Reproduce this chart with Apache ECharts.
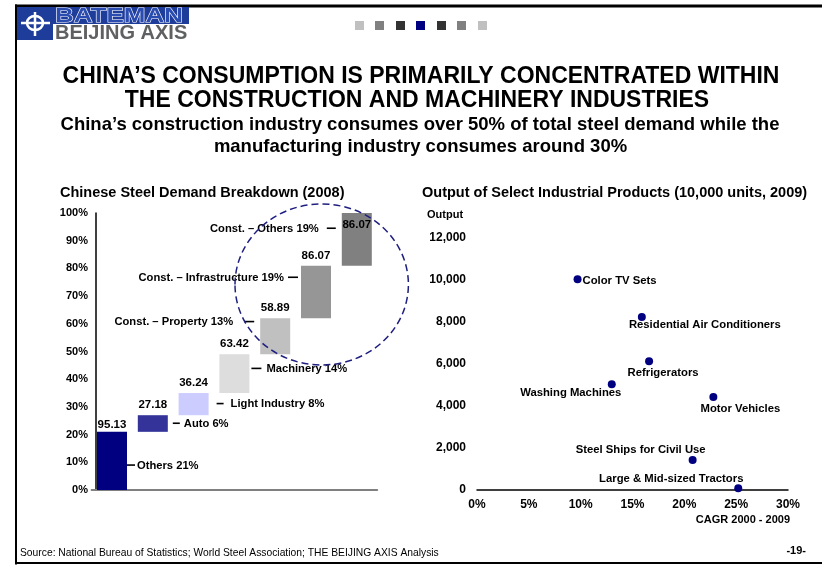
<!DOCTYPE html>
<html><head><meta charset="utf-8">
<script src="https://cdn.jsdelivr.net/npm/echarts@6/dist/echarts.min.js"></script>
<style>html,body{margin:0;padding:0;background:#fff}#c{width:822px;height:565px}</style>
</head><body><div id="c"></div>
<script>
const FONT = '"Liberation Sans", Arial, Helvetica, sans-serif';

// ---- Left chart data: Chinese Steel Demand Breakdown (2008)
const sectors = ['Others', 'Auto', 'Light Industry', 'Machinery', 'Const. – Property', 'Const. – Infrastructure', 'Const. – Others'];
const sectorShares = [21, 6, 8, 14, 13, 19, 19];
const barTopLabels = ['95.13', '27.18', '36.24', '63.42', '58.89', '86.07', '86.07'];
const sectorLabels = ['Others 21%', 'Auto 6%', 'Light Industry 8%', 'Machinery 14%', 'Const. – Property 13%', 'Const. – Infrastructure 19%', 'Const. – Others 19%'];
const shareTicks = ['0%', '10%', '20%', '30%', '40%', '50%', '60%', '70%', '80%', '90%', '100%'];

// ---- Right chart data: Output of Select Industrial Products (10,000 units, 2009)
const products = ['Color TV Sets', 'Residential Air Conditioners', 'Refrigerators', 'Washing Machines', 'Motor Vehicles', 'Steel Ships for Civil Use', 'Large & Mid-sized Tractors'];
const cagr = [9.7, 15.9, 16.6, 13.0, 22.8, 20.8, 25.2];
const output = [10000, 8200, 6100, 5000, 4400, 1400, 50];
const cagrTicks = ['0%', '5%', '10%', '15%', '20%', '25%', '30%'];
const outputTicks = ['0', '2,000', '4,000', '6,000', '8,000', '10,000', '12,000'];

// ---- Styles / layout (not data)
const barColors = ['#000080', '#333399', '#CCCCFF', '#DDDDDD', '#C0C0C0', '#969696', '#808080'];
const BAR_W = 30;
const annotY = [9.0, 24.1, 31.2, 43.9, 60.8, 76.8, 94.5];
const annotLayout = [
  { side: 'right', gap: 0, len: 8, pad: 2 },
  { side: 'right', gap: 5, len: 7, pad: 4 },
  { side: 'right', gap: 8, len: 7, pad: 7 },
  { side: 'right', gap: 2, len: 10, pad: 5 },
  { side: 'left', gap: 6, len: 10, pad: 11 },
  { side: 'left', gap: 3, len: 10, pad: 4 },
  { side: 'left', gap: 6, len: 9, pad: 8 }
];
const scatterLabelOffsets = [[42, 2], [63, 8], [14, 12], [-41, 9], [27, 12], [-52, -10], [-67, -9]];

const bases = [];
sectorShares.reduce((acc, v) => { bases.push(acc); return acc + v; }, 0);

const boldTxt = { fontFamily: FONT, fontWeight: 'bold', fontSize: 11, color: '#000' };
const boldTxt12 = { fontFamily: FONT, fontWeight: 'bold', fontSize: 12, color: '#000' };

const chart = echarts.init(document.getElementById('c'), null, { renderer: 'canvas' });

const option = {
  backgroundColor: '#fff',
  animation: false,
  grid: [
    { left: 91.6, width: 285.6, top: 213, bottom: 75, containLabel: false },
    { left: 477, right: 34, top: 237.3, bottom: 75.7, containLabel: false }
  ],
  xAxis: [
    {
      type: 'category', gridIndex: 0, data: sectors, boundaryGap: true,
      axisLine: { lineStyle: { color: '#808080', width: 2 } },
      axisTick: { show: false }, axisLabel: { show: false }, splitLine: { show: false }
    },
    {
      type: 'value', gridIndex: 1, min: 0, max: 30, interval: 5,
      axisLine: { show: true, onZero: false, lineStyle: { color: '#000', width: 1.5 } },
      axisTick: { show: false }, splitLine: { show: false },
      axisLabel: Object.assign({ margin: 9, formatter: v => cagrTicks[Math.round(v / 5)] }, boldTxt12)
    }
  ],
  yAxis: [
    {
      type: 'value', gridIndex: 0, min: 0, max: 100, interval: 10, offset: -4.4,
      axisLine: { show: true, lineStyle: { color: '#000', width: 1.5 } },
      axisTick: { show: false }, splitLine: { show: false },
      axisLabel: Object.assign({ margin: 8, formatter: v => shareTicks[Math.round(v / 10)] }, boldTxt)
    },
    {
      type: 'value', gridIndex: 1, min: 0, max: 12000, interval: 2000,
      axisLine: { show: false }, axisTick: { show: false }, splitLine: { show: false },
      axisLabel: Object.assign({ margin: 11, formatter: v => outputTicks[Math.round(v / 2000)] }, boldTxt12)
    }
  ],
  series: [
    {
      type: 'bar', xAxisIndex: 0, yAxisIndex: 0, stack: 'w', barWidth: BAR_W,
      itemStyle: { color: 'transparent' }, silent: true,
      data: bases
    },
    {
      type: 'bar', xAxisIndex: 0, yAxisIndex: 0, stack: 'w', barWidth: BAR_W,
      data: sectorShares.map((v, i) => ({
        value: v,
        itemStyle: { color: barColors[i] },
        label: {
          show: true,
          position: i === sectorShares.length - 1 ? 'insideTop' : 'top',
          distance: i === sectorShares.length - 1 ? 6 : (i === 0 ? 1 : 4),
          formatter: () => barTopLabels[i],
          fontFamily: FONT, fontWeight: 'bold', fontSize: 11.5, color: '#000'
        }
      }))
    },
    {
      type: 'custom', xAxisIndex: 0, yAxisIndex: 0, z: 5,
      data: annotY.map((y, i) => [i, y]),
      renderItem: function (params, api) {
        const i = api.value(0);
        const p = api.coord([i, api.value(1)]);
        const L = annotLayout[i];
        const half = BAR_W / 2;
        let x0, x1, tx, align;
        if (L.side === 'right') { x0 = p[0] + half + L.gap; x1 = x0 + L.len; tx = x1 + L.pad; align = 'left'; }
        else { x1 = p[0] - half - L.gap; x0 = x1 - L.len; tx = x0 - L.pad; align = 'right'; }
        return {
          type: 'group', children: [
            { type: 'line', shape: { x1: x0, y1: p[1], x2: x1, y2: p[1] }, style: { stroke: '#000', lineWidth: 1.6 } },
            { type: 'text', style: { x: tx, y: p[1] + 0.5, text: sectorLabels[i], align: align, verticalAlign: 'middle', font: 'bold 11.2px ' + FONT, fill: '#000' } }
          ]
        };
      }
    },
    {
      type: 'scatter', xAxisIndex: 1, yAxisIndex: 1, symbolSize: 8,
      itemStyle: { color: '#000080', opacity: 1 },
      data: products.map((n, i) => ({
        value: [cagr[i], output[i]], name: n,
        label: {
          show: true, position: 'inside', align: 'center', verticalAlign: 'middle',
          offset: scatterLabelOffsets[i], formatter: n,
          fontFamily: FONT, fontWeight: 'bold', fontSize: 11.3, color: '#000'
        }
      }))
    }
  ],
  graphic: [
    // frame
    { type: 'rect', shape: { x: 15, y: 4.5, width: 807, height: 3 }, style: { fill: '#000' }, silent: true },
    { type: 'rect', shape: { x: 15, y: 4.5, width: 2, height: 560 }, style: { fill: '#000' }, silent: true },
    { type: 'rect', shape: { x: 15, y: 562, width: 807, height: 2 }, style: { fill: '#000' }, silent: true },
    // logo
    { type: 'rect', shape: { x: 17, y: 7, width: 36, height: 33 }, style: { fill: '#1E3C9A' } },
    { type: 'rect', shape: { x: 53, y: 7, width: 136, height: 17 }, style: { fill: '#1E3C9A' } },
    { type: 'line', shape: { x1: 21, y1: 23, x2: 50, y2: 23 }, style: { stroke: '#fff', lineWidth: 2.5 } },
    { type: 'ellipse', shape: { cx: 35, cy: 23, rx: 8, ry: 7 }, style: { stroke: '#fff', fill: 'none', lineWidth: 2.5 } },
    { type: 'line', shape: { x1: 35, y1: 12, x2: 35, y2: 36 }, style: { stroke: '#fff', lineWidth: 2.5 } },
    { type: 'text', x: 55, y: 16, scaleX: 1.3, style: { text: 'BATEMAN', font: 'bold 20px ' + FONT, fill: '#2A4CB0', stroke: '#fff', lineWidth: 1, verticalAlign: 'middle', align: 'left' } },
    { type: 'text', x: 55, y: 33, style: { text: 'BEIJING AXIS', font: 'bold 20px ' + FONT, fill: '#5F6062', verticalAlign: 'middle', align: 'left' } },
    // nav squares
    { type: 'rect', shape: { x: 355, y: 21, width: 9, height: 9 }, style: { fill: '#C0C0C0' } },
    { type: 'rect', shape: { x: 375, y: 21, width: 9, height: 9 }, style: { fill: '#808080' } },
    { type: 'rect', shape: { x: 396, y: 21, width: 9, height: 9 }, style: { fill: '#333333' } },
    { type: 'rect', shape: { x: 416, y: 21, width: 9, height: 9 }, style: { fill: '#000080' } },
    { type: 'rect', shape: { x: 437, y: 21, width: 9, height: 9 }, style: { fill: '#333333' } },
    { type: 'rect', shape: { x: 457, y: 21, width: 9, height: 9 }, style: { fill: '#808080' } },
    { type: 'rect', shape: { x: 478, y: 21, width: 9, height: 9 }, style: { fill: '#C0C0C0' } },
    // titles
    { type: 'text', x: 421, y: 76.5, style: { text: 'CHINA’S CONSUMPTION IS PRIMARILY CONCENTRATED WITHIN', font: 'bold 23px ' + FONT, fill: '#000', align: 'center', verticalAlign: 'middle' } },
    { type: 'text', x: 417, y: 100.5, style: { text: 'THE CONSTRUCTION AND MACHINERY INDUSTRIES', font: 'bold 23px ' + FONT, fill: '#000', align: 'center', verticalAlign: 'middle' } },
    { type: 'text', x: 420, y: 125, style: { text: 'China’s construction industry consumes over 50% of total steel demand while the', font: 'bold 18.5px ' + FONT, fill: '#000', align: 'center', verticalAlign: 'middle' } },
    { type: 'text', x: 420.5, y: 147, style: { text: 'manufacturing industry consumes around 30%', font: 'bold 18.5px ' + FONT, fill: '#000', align: 'center', verticalAlign: 'middle' } },
    { type: 'text', x: 60, y: 193, style: { text: 'Chinese Steel Demand Breakdown (2008)', font: 'bold 14.5px ' + FONT, fill: '#000', align: 'left', verticalAlign: 'middle' } },
    { type: 'text', x: 422, y: 193, style: { text: 'Output of Select Industrial Products (10,000 units, 2009)', font: 'bold 14.5px ' + FONT, fill: '#000', align: 'left', verticalAlign: 'middle' } },
    { type: 'text', x: 427, y: 215, style: { text: 'Output', font: 'bold 11px ' + FONT, fill: '#000', align: 'left', verticalAlign: 'middle' } },
    { type: 'text', x: 790, y: 520, style: { text: 'CAGR 2000 - 2009', font: 'bold 11px ' + FONT, fill: '#000', align: 'right', verticalAlign: 'middle' } },
    // dashed ellipse highlight
    { type: 'ellipse', z: 100, shape: { cx: 321.7, cy: 284.5, rx: 86.7, ry: 80.5 }, style: { fill: 'none', stroke: '#1F1F80', lineWidth: 1.5, lineDash: [7, 4] } },
    // footer
    { type: 'text', x: 20, y: 553, style: { text: 'Source: National Bureau of Statistics; World Steel Association; THE BEIJING AXIS Analysis', font: '10.3px ' + FONT, fill: '#000', align: 'left', verticalAlign: 'middle' } },
    { type: 'text', x: 806, y: 551, style: { text: '-19-', font: 'bold 11px ' + FONT, fill: '#000', align: 'right', verticalAlign: 'middle' } }
  ]
};
chart.setOption(option);
</script>
</body></html>
